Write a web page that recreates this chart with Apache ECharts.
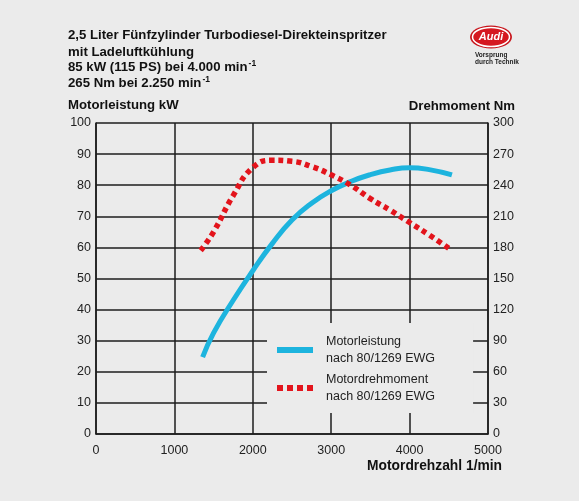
<!DOCTYPE html>
<html><head><meta charset="utf-8">
<script src="https://cdn.jsdelivr.net/npm/echarts@6/dist/echarts.min.js"></script>
<style>html,body{margin:0;padding:0;background:#ebebeb}#c{width:579px;height:501px}</style>
</head><body><div id="c"></div>
<script>
const rpmPower = [1360,1500,1750,2000,2250,2500,2750,3000,3250,3500,3750,4000,4250,4540];
const powerKW  = [24.7,32.5,43,52.5,61.3,68.8,74.2,78.2,81.2,83.4,84.9,85.6,85.0,83.3];
const rpmTorque = [1335,1500,1750,2000,2250,2500,2750,3000,3250,3500,3750,4000,4250,4500];
const torqueNm  = [177,195,230,257,264,263,258,250,240,227,216,204,192,179];
const xTicks = [0,1000,2000,3000,4000,5000];
const titleLines = ['2,5 Liter Fünfzylinder Turbodiesel-Direkteinspritzer','mit Ladeluftkühlung','85 kW (115 PS) bei 4.000 min{s|-1}','265 Nm bei 2.250 min{s|-1}'];
const legendNames = ['Motorleistung\nnach 80/1269 EWG','Motordrehmoment\nnach 80/1269 EWG'];

const FONT = '"Liberation Sans", Arial, sans-serif';
const chart = echarts.init(document.getElementById('c'), null, {renderer:'canvas'});
const lineCol = '#1c1c1c';
const titleGraphics = titleLines.map((t,i)=>({
  type:'text', left:68, top:[29,46,59,75][i],
  style:{text:t, font:'bold 13.2px '+FONT, fill:'#111',
    rich:{s:{fontSize:8.5, fontWeight:'bold', verticalAlign:'top', padding:[0,0,7,1], fill:'#111', fontFamily:FONT}}}
}));
chart.setOption({
  backgroundColor:'#ebebeb',
  textStyle:{fontFamily:FONT},
  animation:false,
  grid:{left:96, right:91, top:123, bottom:67},
  legend:{
    orient:'vertical', left:267, top:323, padding:[10,38,8,10],
    backgroundColor:'#ebebeb', itemWidth:36, itemHeight:6, itemGap:4,
    textStyle:{fontSize:12.5, color:'#222', lineHeight:17, padding:[0,0,0,8], fontFamily:FONT},
    data:[
      {name:legendNames[0], icon:'rect', itemStyle:{color:'#1db4de'}},
      {name:legendNames[1], icon:'path://M0,0h6v6h-6z M10,0h6v6h-6z M20,0h6v6h-6z M30,0h6v6h-6z', itemStyle:{color:'#e3141c'}}
    ]
  },
  xAxis:{type:'value', min:0, max:5000, interval:1000,
    axisLine:{show:true, lineStyle:{color:lineCol, width:1.5}},
    axisTick:{show:false},
    axisLabel:{color:'#222', fontSize:12.5, margin:10, customValues:xTicks, formatter:v=>String(v)},
    splitLine:{show:true, lineStyle:{color:lineCol, width:1.5}}
  },
  yAxis:[
    {type:'value', min:0, max:100, interval:10, position:'left',
      axisLine:{show:true, lineStyle:{color:lineCol, width:1.5}},
      axisTick:{show:false},
      axisLabel:{color:'#222', fontSize:12.5, margin:5},
      splitLine:{show:true, lineStyle:{color:lineCol, width:1.5}}},
    {type:'value', min:0, max:300, interval:30, position:'right',
      axisLine:{show:true, lineStyle:{color:lineCol, width:1.5}},
      axisTick:{show:false},
      axisLabel:{color:'#222', fontSize:12.5, margin:5},
      splitLine:{show:false}}
  ],
  series:[
    {name:legendNames[0], type:'line', yAxisIndex:0, smooth:0.5, symbol:'none',
      lineStyle:{color:'#1db4de', width:5}, itemStyle:{color:'#1db4de'}, z:3,
      data:rpmPower.map((r,i)=>[r,powerKW[i]])},
    {name:legendNames[1], type:'line', yAxisIndex:1, smooth:0.5, symbol:'none',
      lineStyle:{color:'#e3141c', width:5.5, type:[5,4]}, itemStyle:{color:'#e3141c'}, z:3,
      data:rpmTorque.map((r,i)=>[r,torqueNm[i]])}
  ],
  graphic:[
    ...titleGraphics,
    {type:'text', left:68, top:99, style:{text:'Motorleistung kW', font:'bold 13.2px '+FONT, fill:'#111'}},
    {type:'text', right:64, top:100, style:{text:'Drehmoment Nm', font:'bold 13.2px '+FONT, fill:'#111'}},
    {type:'text', right:77, top:459, style:{text:'Motordrehzahl 1/min', font:'bold 13.8px '+FONT, fill:'#111'}},
    {type:'ellipse', shape:{cx:491, cy:37, rx:21, ry:11.5}, style:{fill:'#c8161d'}},
    {type:'ellipse', shape:{cx:491, cy:37, rx:18.5, ry:9.5}, style:{fill:'#d51820', stroke:'#fff', lineWidth:1.5}},
    {type:'text', x:491, y:37, style:{text:'Audi', font:'bold italic 11px '+FONT, fill:'#fff', align:'center', verticalAlign:'middle'}},
    {type:'text', left:475, top:52, style:{text:'Vorsprung\ndurch Technik', font:'bold 6.5px '+FONT, fill:'#222', lineHeight:7}}
  ]
});
</script></body></html>
